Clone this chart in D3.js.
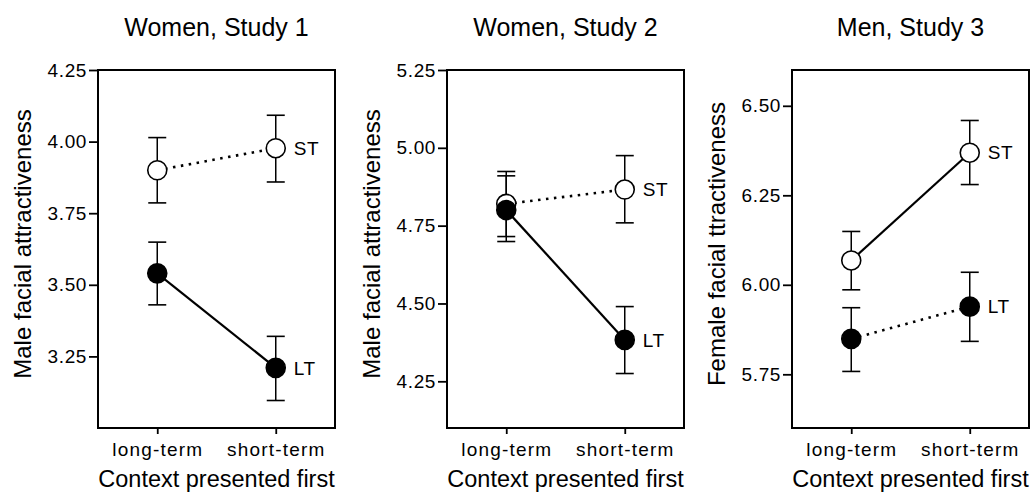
<!DOCTYPE html>
<html>
<head>
<meta charset="utf-8">
<script src="https://cdn.jsdelivr.net/npm/d3@7"></script>
<style>
  body { margin: 0; background: #fff; }
  svg, svg text { font-family: "Liberation Sans", Arial, Helvetica, sans-serif; }
</style>
</head>
<body>
<div id="chart"></div>
<script>
var categories = ["long-term", "short-term"];
var panel_titles = ["Women, Study 1", "Women, Study 2", "Men, Study 3"];
var y_labels = ["Male facial attractiveness", "Male facial attractiveness", "Female facial ttractiveness"];
var y_domains = [[3.0, 4.25], [4.10, 5.25], [5.6, 6.6]];
var y_ticks = [
  [3.25, 3.50, 3.75, 4.00, 4.25],
  [4.25, 4.50, 4.75, 5.00, 5.25],
  [5.75, 6.00, 6.25, 6.50]
];

// short-term (open circles) and long-term (filled circles), one row per panel
var st_mean = [[3.90, 3.977], [4.82, 4.866], [6.068, 6.369]];
var st_lo   = [[3.786, 3.859], [4.715, 4.759], [5.986, 6.28]];
var st_hi   = [[4.014, 4.092], [4.924, 4.975], [6.149, 6.459]];
var lt_mean = [[3.54, 3.21], [4.80, 4.383], [5.849, 5.939]];
var lt_lo   = [[3.43, 3.096], [4.699, 4.275], [5.758, 5.842]];
var lt_hi   = [[3.649, 3.32], [4.910, 4.49], [5.936, 6.035]];
var dotted_series = ["ST", "ST", "LT"];

var panel_left = [98, 447, 792]
  , panel_top = 70
  , width = 237
  , height = 358;

var chart = d3.select('#chart')
  .append('svg')
  .attr('width', 1036)
  .attr('height', 495);

panel_titles.forEach(function(title, p) {
  var main = chart.append('g')
    .attr('transform', 'translate(' + panel_left[p] + ',' + panel_top + ')');

  var x = d3.scalePoint()
    .domain(categories)
    .range([0, width])
    .padding(0.5);

  var y = d3.scaleLinear()
    .domain(y_domains[p])
    .range([height, 0]);

  // y axis
  var yAxis = d3.axisLeft(y)
    .tickValues(y_ticks[p])
    .tickSize(9)
    .tickPadding(2)
    .tickFormat(d3.format('.2f'));

  var ya = main.append('g').call(yAxis)
    .attr('font-family', null)
    .attr('font-size', null);
  ya.select('.domain').remove();
  ya.selectAll('.tick line').attr('stroke', '#000').attr('stroke-width', 1.8);
  ya.selectAll('.tick text')
    .attr('fill', '#000')
    .style('font-size', '19px')
    .style('letter-spacing', '0.6px');

  // x axis
  var xAxis = d3.axisBottom(x).tickSize(6).tickPadding(9);
  var xa = main.append('g')
    .attr('transform', 'translate(0,' + height + ')')
    .call(xAxis)
    .attr('font-family', null)
    .attr('font-size', null);
  xa.select('.domain').remove();
  xa.selectAll('.tick line').attr('stroke', '#000').attr('stroke-width', 1.8);
  xa.selectAll('.tick text')
    .attr('fill', '#000')
    .style('font-size', '19px')
    .style('letter-spacing', '1.2px');

  // frame
  main.append('rect')
    .attr('x', 0)
    .attr('y', 0)
    .attr('width', width)
    .attr('height', height)
    .attr('fill', 'none')
    .attr('stroke', '#000')
    .attr('stroke-width', 2);

  chart.append('text')
    .attr('x', panel_left[p] + width / 2)
    .attr('y', 36)
    .style('text-anchor', 'middle')
    .style('font-size', '25px')
    .text(title);

  chart.append('text')
    .attr('x', panel_left[p] + width / 2)
    .attr('y', 487)
    .style('text-anchor', 'middle')
    .style('font-size', '23.5px')
    .text('Context presented first');

  chart.append('text')
    .attr('transform', 'translate(' + (panel_left[p] - 67) + ',' + (panel_top + height / 2 - 5) + ') rotate(-90)')
    .style('text-anchor', 'middle')
    .style('font-size', '24px')
    .text(y_labels[p]);

  var series = [
    {name: 'ST', mean: st_mean[p], lo: st_lo[p], hi: st_hi[p], fill: '#fff'},
    {name: 'LT', mean: lt_mean[p], lo: lt_lo[p], hi: lt_hi[p], fill: '#000'}
  ];

  var line = d3.line()
    .x(function(d, i) { return x(categories[i]); })
    .y(function(d) { return y(d); });

  series.forEach(function(s) {
    main.append('path')
      .datum(s.mean)
      .attr('d', line)
      .attr('fill', 'none')
      .attr('stroke', '#000')
      .attr('stroke-width', dotted_series[p] == s.name ? 2.6 : 2.2)
      .attr('stroke-dasharray', dotted_series[p] == s.name ? '2.5,5.5' : null);
  });

  series.forEach(function(s) {
    var g = main.append('g');
    categories.forEach(function(c, i) {
      var cx = x(c);
      g.append('line')
        .attr('x1', cx).attr('x2', cx)
        .attr('y1', y(s.lo[i])).attr('y2', y(s.hi[i]))
        .attr('stroke', '#000').attr('stroke-width', 1.5);
      [s.lo[i], s.hi[i]].forEach(function(v) {
        g.append('line')
          .attr('x1', cx - 9).attr('x2', cx + 9)
          .attr('y1', y(v)).attr('y2', y(v))
          .attr('stroke', '#000').attr('stroke-width', 1.6);
      });
    });
  });

  series.forEach(function(s) {
    main.selectAll('circle.' + s.name)
      .data(s.mean)
      .enter().append('circle')
        .attr('class', s.name)
        .attr('cx', function(d, i) { return x(categories[i]); })
        .attr('cy', function(d) { return y(d); })
        .attr('r', 9.5)
        .attr('fill', s.fill)
        .attr('stroke', '#000')
        .attr('stroke-width', 1.6);

    main.append('text')
      .attr('x', x(categories[1]) + 18)
      .attr('y', y(s.mean[1]))
      .attr('dy', '0.35em')
      .style('font-size', '19px')
      .style('letter-spacing', '0.5px')
      .text(s.name);
  });
});
</script>
</body>
</html>
